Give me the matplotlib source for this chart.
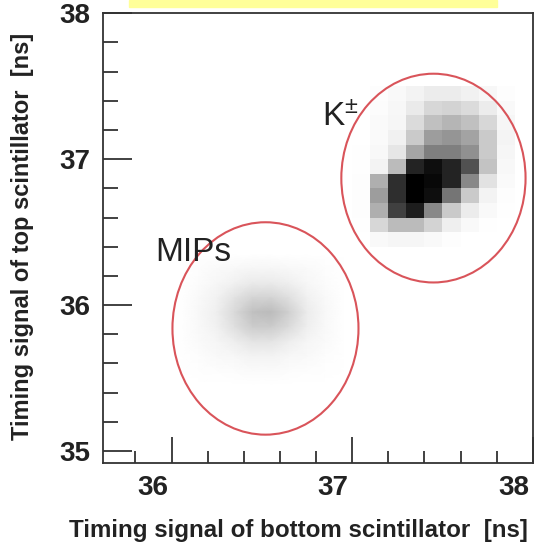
import numpy as np
import matplotlib.pyplot as plt
from matplotlib.patches import Ellipse, Rectangle
from matplotlib.ticker import MultipleLocator
import matplotlib.transforms as mtransforms

plt.rcParams['font.family'] = ['Liberation Sans', 'DejaVu Sans']
plt.rcParams['mathtext.default'] = 'regular'

# K+- cluster, 0.1 ns bins, darkness 0..1 (rows listed top -> bottom)
k_x = [37.0, 37.1, 37.2, 37.3, 37.4, 37.5, 37.6, 37.7, 37.8, 37.9]
k_y = [36.4, 36.5, 36.6, 36.7, 36.8, 36.9, 37.0, 37.1, 37.2, 37.3, 37.4, 37.5]
k_dark = np.array([
    [0.00, 0.02, 0.05, 0.10, 0.15, 0.15, 0.12, 0.07, 0.02],
    [0.00, 0.03, 0.07, 0.16, 0.26, 0.28, 0.24, 0.15, 0.05],
    [0.00, 0.04, 0.08, 0.24, 0.36, 0.40, 0.36, 0.26, 0.08],
    [0.00, 0.04, 0.12, 0.32, 0.48, 0.50, 0.46, 0.32, 0.09],
    [0.01, 0.06, 0.18, 0.45, 0.58, 0.58, 0.52, 0.32, 0.08],
    [0.01, 0.10, 0.38, 0.88, 0.95, 0.88, 0.75, 0.35, 0.06],
    [0.02, 0.42, 0.85, 1.00, 0.97, 0.88, 0.55, 0.20, 0.04],
    [0.02, 0.48, 0.85, 1.00, 0.95, 0.62, 0.32, 0.10, 0.02],
    [0.02, 0.42, 0.80, 0.90, 0.55, 0.32, 0.15, 0.05, 0.01],
    [0.01, 0.26, 0.38, 0.38, 0.28, 0.13, 0.05, 0.01, 0.00],
    [0.00, 0.05, 0.08, 0.08, 0.05, 0.02, 0.00, 0.00, 0.00],
])

# MIP cluster, bin centres, darkness 0..1 (rows top -> bottom)
mip_x = [36.05, 36.15, 36.25, 36.35, 36.45, 36.55, 36.65, 36.75, 36.85, 36.95]
mip_y = [36.35, 36.25, 36.15, 36.05, 35.95, 35.85, 35.75, 35.65, 35.55, 35.45]
mip_dark = np.array([
    [0.00, 0.00, 0.00, 0.00, 0.00, 0.00, 0.00, 0.00, 0.00, 0.00],
    [0.00, 0.02, 0.04, 0.06, 0.08, 0.08, 0.06, 0.04, 0.02, 0.00],
    [0.00, 0.03, 0.07, 0.12, 0.16, 0.16, 0.13, 0.07, 0.03, 0.00],
    [0.00, 0.05, 0.11, 0.20, 0.27, 0.28, 0.22, 0.12, 0.05, 0.00],
    [0.00, 0.06, 0.13, 0.25, 0.36, 0.38, 0.29, 0.15, 0.06, 0.00],
    [0.00, 0.05, 0.12, 0.22, 0.31, 0.31, 0.24, 0.13, 0.05, 0.00],
    [0.00, 0.04, 0.08, 0.14, 0.19, 0.19, 0.14, 0.08, 0.04, 0.00],
    [0.00, 0.02, 0.05, 0.07, 0.10, 0.10, 0.07, 0.05, 0.02, 0.00],
    [0.00, 0.01, 0.02, 0.03, 0.04, 0.04, 0.03, 0.02, 0.01, 0.00],
    [0.00, 0.00, 0.00, 0.00, 0.00, 0.00, 0.00, 0.00, 0.00, 0.00],
])

# selection ellipses: centre x, centre y, width, height
k_ell = (37.45, 36.87, 1.02, 1.43)
mip_ell = (36.52, 35.84, 1.03, 1.455)

fig = plt.figure(figsize=(5.36, 5.47), dpi=100)
ax = fig.add_axes([0.192, 0.154, 0.802, 0.822])

ax.pcolormesh(k_x, k_y, k_dark[::-1], cmap='Greys', vmin=0, vmax=1, shading='flat')
mx, my = np.meshgrid(mip_x, mip_y)
ax.pcolormesh(mx, my, mip_dark, cmap='Greys', vmin=0, vmax=1, shading='gouraud')

red = '#d9545a'
ax.add_patch(Ellipse(k_ell[:2], k_ell[2], k_ell[3], fill=False, ec=red, lw=1.5))
ax.add_patch(Ellipse(mip_ell[:2], mip_ell[2], mip_ell[3], fill=False, ec=red, lw=1.5))

ax.text(36.835, 37.23, 'K$^{\\pm}$', fontsize=24, color='#222222')
ax.text(35.91, 36.305, 'MIPs', fontsize=24, color='#222222')

ax.set_xlim(35.62, 38.0)
ax.set_ylim(34.92, 38.0)
ax.set_xticks([36, 37, 38])
ax.set_yticks([35, 36, 37, 38])
ax.xaxis.set_minor_locator(MultipleLocator(0.2))
ax.yaxis.set_minor_locator(MultipleLocator(0.2))
ax.set_xticklabels(['36', '37', '38'], fontweight='bold')
ax.set_yticklabels(['35', '36', '37', '38'], fontweight='bold')
ax.tick_params(which='both', direction='in', top=False, right=False, colors='#333333',
               labelcolor='#222222', width=1.3)
ax.tick_params(axis='x', which='major', length=19, pad=9, labelsize=20)
ax.tick_params(axis='x', which='minor', length=9)
ax.tick_params(axis='y', which='major', length=21, pad=9, labelsize=20)
ax.tick_params(axis='y', which='minor', length=11)
for s in ax.spines.values():
    s.set_color('#333333')
    s.set_linewidth(1.3)

# ROOT-ish offset of the x labels
off = mtransforms.ScaledTranslation(-0.19, 0, fig.dpi_scale_trans)
for lab in ax.get_xticklabels():
    lab.set_transform(lab.get_transform() + off)

fig.text(298 / 536, 1 - 530 / 547, 'Timing signal of bottom scintillator  [ns]',
         ha='center', va='center', fontsize=17.4, fontweight='bold', color='#222222')
fig.text(23 / 536, 1 - 236 / 547, 'Timing signal of top scintillator  [ns]',
         ha='center', va='center', rotation=90, fontsize=17, fontweight='bold', color='#222222')

# yellow strip at the top
fig.patches.append(Rectangle((129 / 536, 1 - 7 / 547), 368 / 536, 7 / 547,
                             transform=fig.transFigure, color='#ffff99', zorder=0))

fig.savefig('out.png', dpi=100)
